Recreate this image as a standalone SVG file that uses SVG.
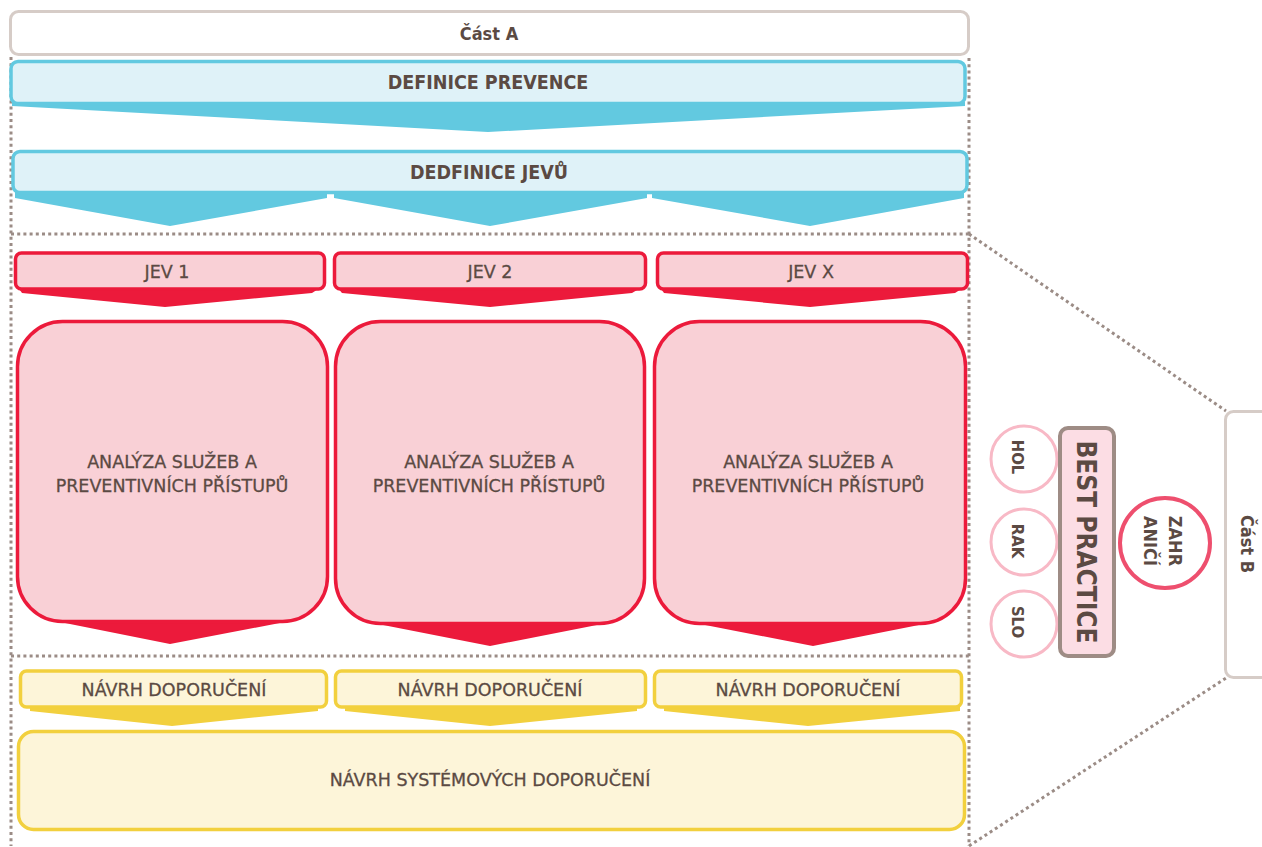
<svg xmlns="http://www.w3.org/2000/svg" width="1262" height="847" viewBox="0 0 1262 847">
  <style>
    .t { font-family: "DejaVu Sans", "Liberation Sans", sans-serif; fill: #5b4a43; stroke: #5b4a43; stroke-width: 0.3; text-anchor: middle; }
    .r { font-size: 17.5px; }
    .b { font-family: "DejaVu Sans Condensed", "DejaVu Sans", sans-serif; font-weight: bold; stroke: none; }
    .part { fill: #ffffff; stroke: #d6ccc7; stroke-width: 3; }
    .blue { fill: #dff2f8; stroke: #62c9e0; stroke-width: 3.5; }
    .blueA { fill: #62c9e0; }
    .red { fill: #f9d0d6; stroke: #ec1a3b; stroke-width: 3.5; }
    .redA { fill: #ec1a3b; }
    .yel { fill: #fdf5d9; stroke: #f2d03e; stroke-width: 3.5; }
    .yelA { fill: #f2d03e; }
    .dot { fill: none; stroke: #9b8c86; stroke-width: 3; stroke-dasharray: 3 3.2; }
    .cty { fill: #ffffff; stroke: #f8b9c6; stroke-width: 3; }
  </style>

  <!-- dotted frame and zoom lines -->
  <g id="connectors">
    <path class="dot" d="M11 57 V846"/>
    <path class="dot" d="M969 58 V846"/>
    <path class="dot" d="M11 234 H969"/>
    <path class="dot" d="M11 656 H969"/>
    <path class="dot" d="M969 234 L1226 411"/>
    <path class="dot" d="M969 846 L1226 678"/>
  </g>

  <g id="cast-a">
    <rect class="part" x="10.5" y="11.5" width="958" height="43" rx="8"/>
    <text class="t b" x="489" y="40" font-size="18">Část A</text>
  </g>

  <g id="definice-prevence">
    <polygon class="blueA" points="12,102 965,102 965,106 488,132 12,106"/>
    <rect class="blue" x="11" y="61.5" width="954" height="42" rx="7"/>
    <text class="t b" x="488" y="89" font-size="19.5">DEFINICE PREVENCE</text>
  </g>

  <g id="definice-jevu">
    <polygon class="blueA" points="15,190 327,190 327,198 170,226 15,198"/>
    <polygon class="blueA" points="334,190 647,190 647,198 490,226 334,198"/>
    <polygon class="blueA" points="652,190 964,190 964,198 810,226 652,198"/>
    <rect class="blue" x="13" y="151.5" width="954" height="41" rx="7"/>
    <text class="t b" x="489" y="179" font-size="19.5">DEDFINICE JEVŮ</text>
  </g>

  <!-- phenomena -->
  <g id="jev-1">
    <polygon class="redA" points="17,286 323,286 312,293 165,307 22,293"/>
    <rect class="red" x="15.5" y="253" width="309" height="36" rx="6"/>
    <text class="t r" x="167" y="278">JEV 1</text>
  </g>
  <g id="jev-2">
    <polygon class="redA" points="336,286 644,286 632,293 490,307 342,293"/>
    <rect class="red" x="334.5" y="253" width="311" height="36" rx="6"/>
    <text class="t r" x="490" y="278">JEV 2</text>
  </g>
  <g id="jev-x">
    <polygon class="redA" points="659,286 966,286 955,293 810,307 664,293"/>
    <rect class="red" x="657.5" y="253" width="310" height="36" rx="6"/>
    <text class="t r" x="811" y="278">JEV X</text>
  </g>

  <!-- analysis boxes -->
  <g id="analyza-1">
    <polygon class="redA" points="60,612 285,612 285,622 170,644 60,622"/>
    <rect class="red" x="17.5" y="321.5" width="310" height="300" rx="45"/>
    <text class="t r" x="172" y="468">ANALÝZA SLUŽEB A</text>
    <text class="t r" x="172" y="492">PREVENTIVNÍCH PŘÍSTUPŮ</text>
  </g>
  <g id="analyza-2">
    <polygon class="redA" points="378,612 602,612 602,624 490,646 378,624"/>
    <rect class="red" x="335.5" y="321.5" width="309" height="302" rx="45"/>
    <text class="t r" x="489" y="468">ANALÝZA SLUŽEB A</text>
    <text class="t r" x="489" y="492">PREVENTIVNÍCH PŘÍSTUPŮ</text>
  </g>
  <g id="analyza-3">
    <polygon class="redA" points="700,612 924,612 924,624 813,646 700,624"/>
    <rect class="red" x="654.5" y="321.5" width="311" height="302" rx="45"/>
    <text class="t r" x="808" y="468">ANALÝZA SLUŽEB A</text>
    <text class="t r" x="808" y="492">PREVENTIVNÍCH PŘÍSTUPŮ</text>
  </g>

  <!-- recommendations -->
  <g id="navrh-1">
    <polygon class="yelA" points="30,704 318,704 318,711 172,726 30,711"/>
    <rect class="yel" x="20.5" y="671" width="306" height="36" rx="6"/>
    <text class="t r" x="174" y="696">NÁVRH DOPORUČENÍ</text>
  </g>
  <g id="navrh-2">
    <polygon class="yelA" points="345,704 637,704 637,711 490,726 345,711"/>
    <rect class="yel" x="335.5" y="671" width="310" height="36" rx="6"/>
    <text class="t r" x="490" y="696">NÁVRH DOPORUČENÍ</text>
  </g>
  <g id="navrh-3">
    <polygon class="yelA" points="664,704 960,704 960,711 808,726 664,711"/>
    <rect class="yel" x="654.5" y="671" width="307" height="36" rx="6"/>
    <text class="t r" x="808" y="696">NÁVRH DOPORUČENÍ</text>
  </g>
  <g id="navrh-systemovych">
    <rect class="yel" x="18.5" y="731.5" width="946" height="98" rx="15"/>
    <text class="t r" x="490" y="786">NÁVRH SYSTÉMOVÝCH DOPORUČENÍ</text>
  </g>

  <!-- best practice panel -->
  <g id="hol">
    <circle class="cty" cx="1024" cy="459" r="33"/>
    <text class="t b" font-size="16.5" transform="translate(1012 457) rotate(90)">HOL</text>
  </g>
  <g id="rak">
    <circle class="cty" cx="1024" cy="542" r="33"/>
    <text class="t b" font-size="16.5" transform="translate(1012 541) rotate(90)">RAK</text>
  </g>
  <g id="slo">
    <circle class="cty" cx="1024" cy="624" r="33"/>
    <text class="t b" font-size="16.5" transform="translate(1012 622) rotate(90)">SLO</text>
  </g>
  <g id="best-practice">
    <rect x="1060" y="428" width="54" height="228" rx="8" fill="#fcdde4" stroke="#9e8c85" stroke-width="4"/>
    <text class="t b" font-size="26" transform="translate(1077 542) rotate(90)">BEST PRACTICE</text>
  </g>
  <g id="zahranici">
    <circle cx="1165" cy="543" r="45" fill="#ffffff" stroke="#ee4f6e" stroke-width="4"/>
    <text class="t b" font-size="18" transform="translate(1169 541) rotate(90)">ZAHR</text>
    <text class="t b" font-size="18" transform="translate(1144 541) rotate(90)">ANIČÍ</text>
  </g>
  <g id="cast-b">
    <rect class="part" x="1225.5" y="411.5" width="50" height="266" rx="8"/>
    <text class="t b" font-size="18" transform="translate(1241 544) rotate(90)">Část B</text>
  </g>
</svg>
